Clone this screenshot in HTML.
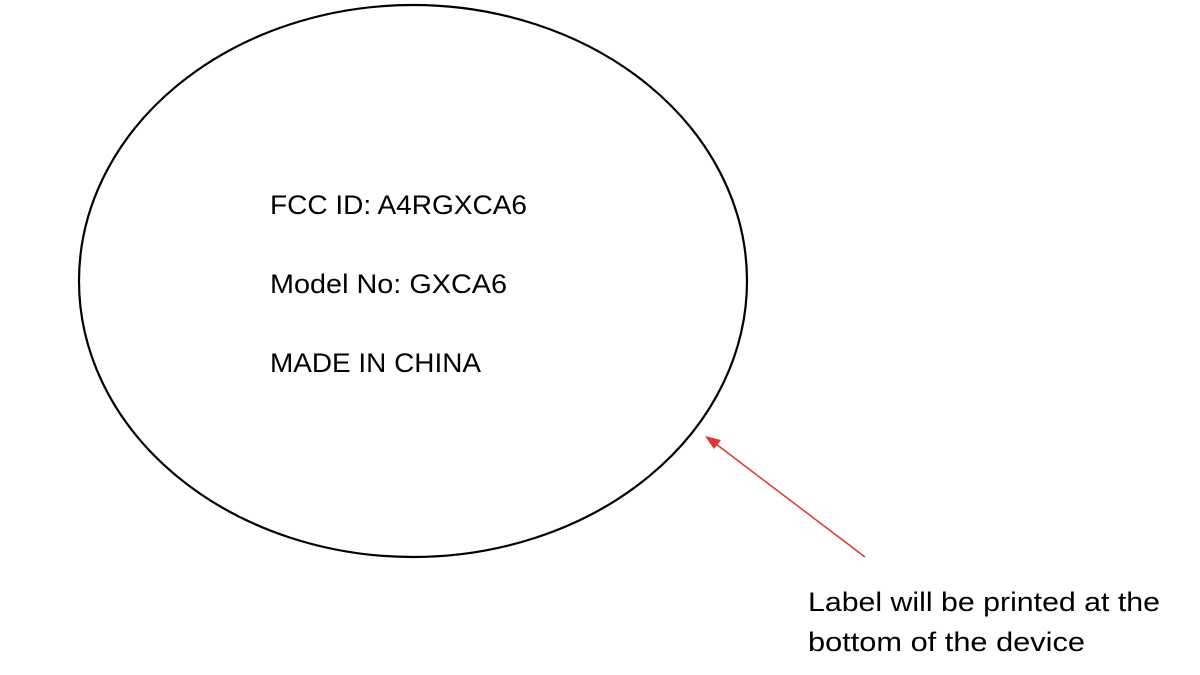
<!DOCTYPE html>
<html><head><meta charset="utf-8"><style>
html,body{margin:0;padding:0;background:#fff;}
body{width:1200px;height:675px;overflow:hidden;position:relative;font-family:"Liberation Sans",sans-serif;}
</style></head><body>
<svg width="1200" height="675" xmlns="http://www.w3.org/2000/svg" style="position:absolute;left:0;top:0">
<ellipse cx="413" cy="281" rx="334" ry="276" fill="none" stroke="#000" stroke-width="2.2"/>
<g font-family="Liberation Sans, sans-serif" font-size="27" fill="#000">
<text x="270" y="214" textLength="257" lengthAdjust="spacingAndGlyphs">FCC ID: A4RGXCA6</text>
<text x="270" y="293" textLength="237" lengthAdjust="spacingAndGlyphs">Model No: GXCA6</text>
<text x="270" y="372" textLength="211" lengthAdjust="spacingAndGlyphs">MADE IN CHINA</text>
<text x="808" y="611" textLength="352" lengthAdjust="spacingAndGlyphs">Label will be printed at the</text>
<text x="808" y="651" textLength="277" lengthAdjust="spacingAndGlyphs">bottom of the device</text>
</g>
<line x1="865" y1="557" x2="716" y2="444" stroke="#e0382e" stroke-width="1.5"/>
<polygon points="705,436 721,440 714,449" fill="#e0382e"/>
</svg>
</body></html>
